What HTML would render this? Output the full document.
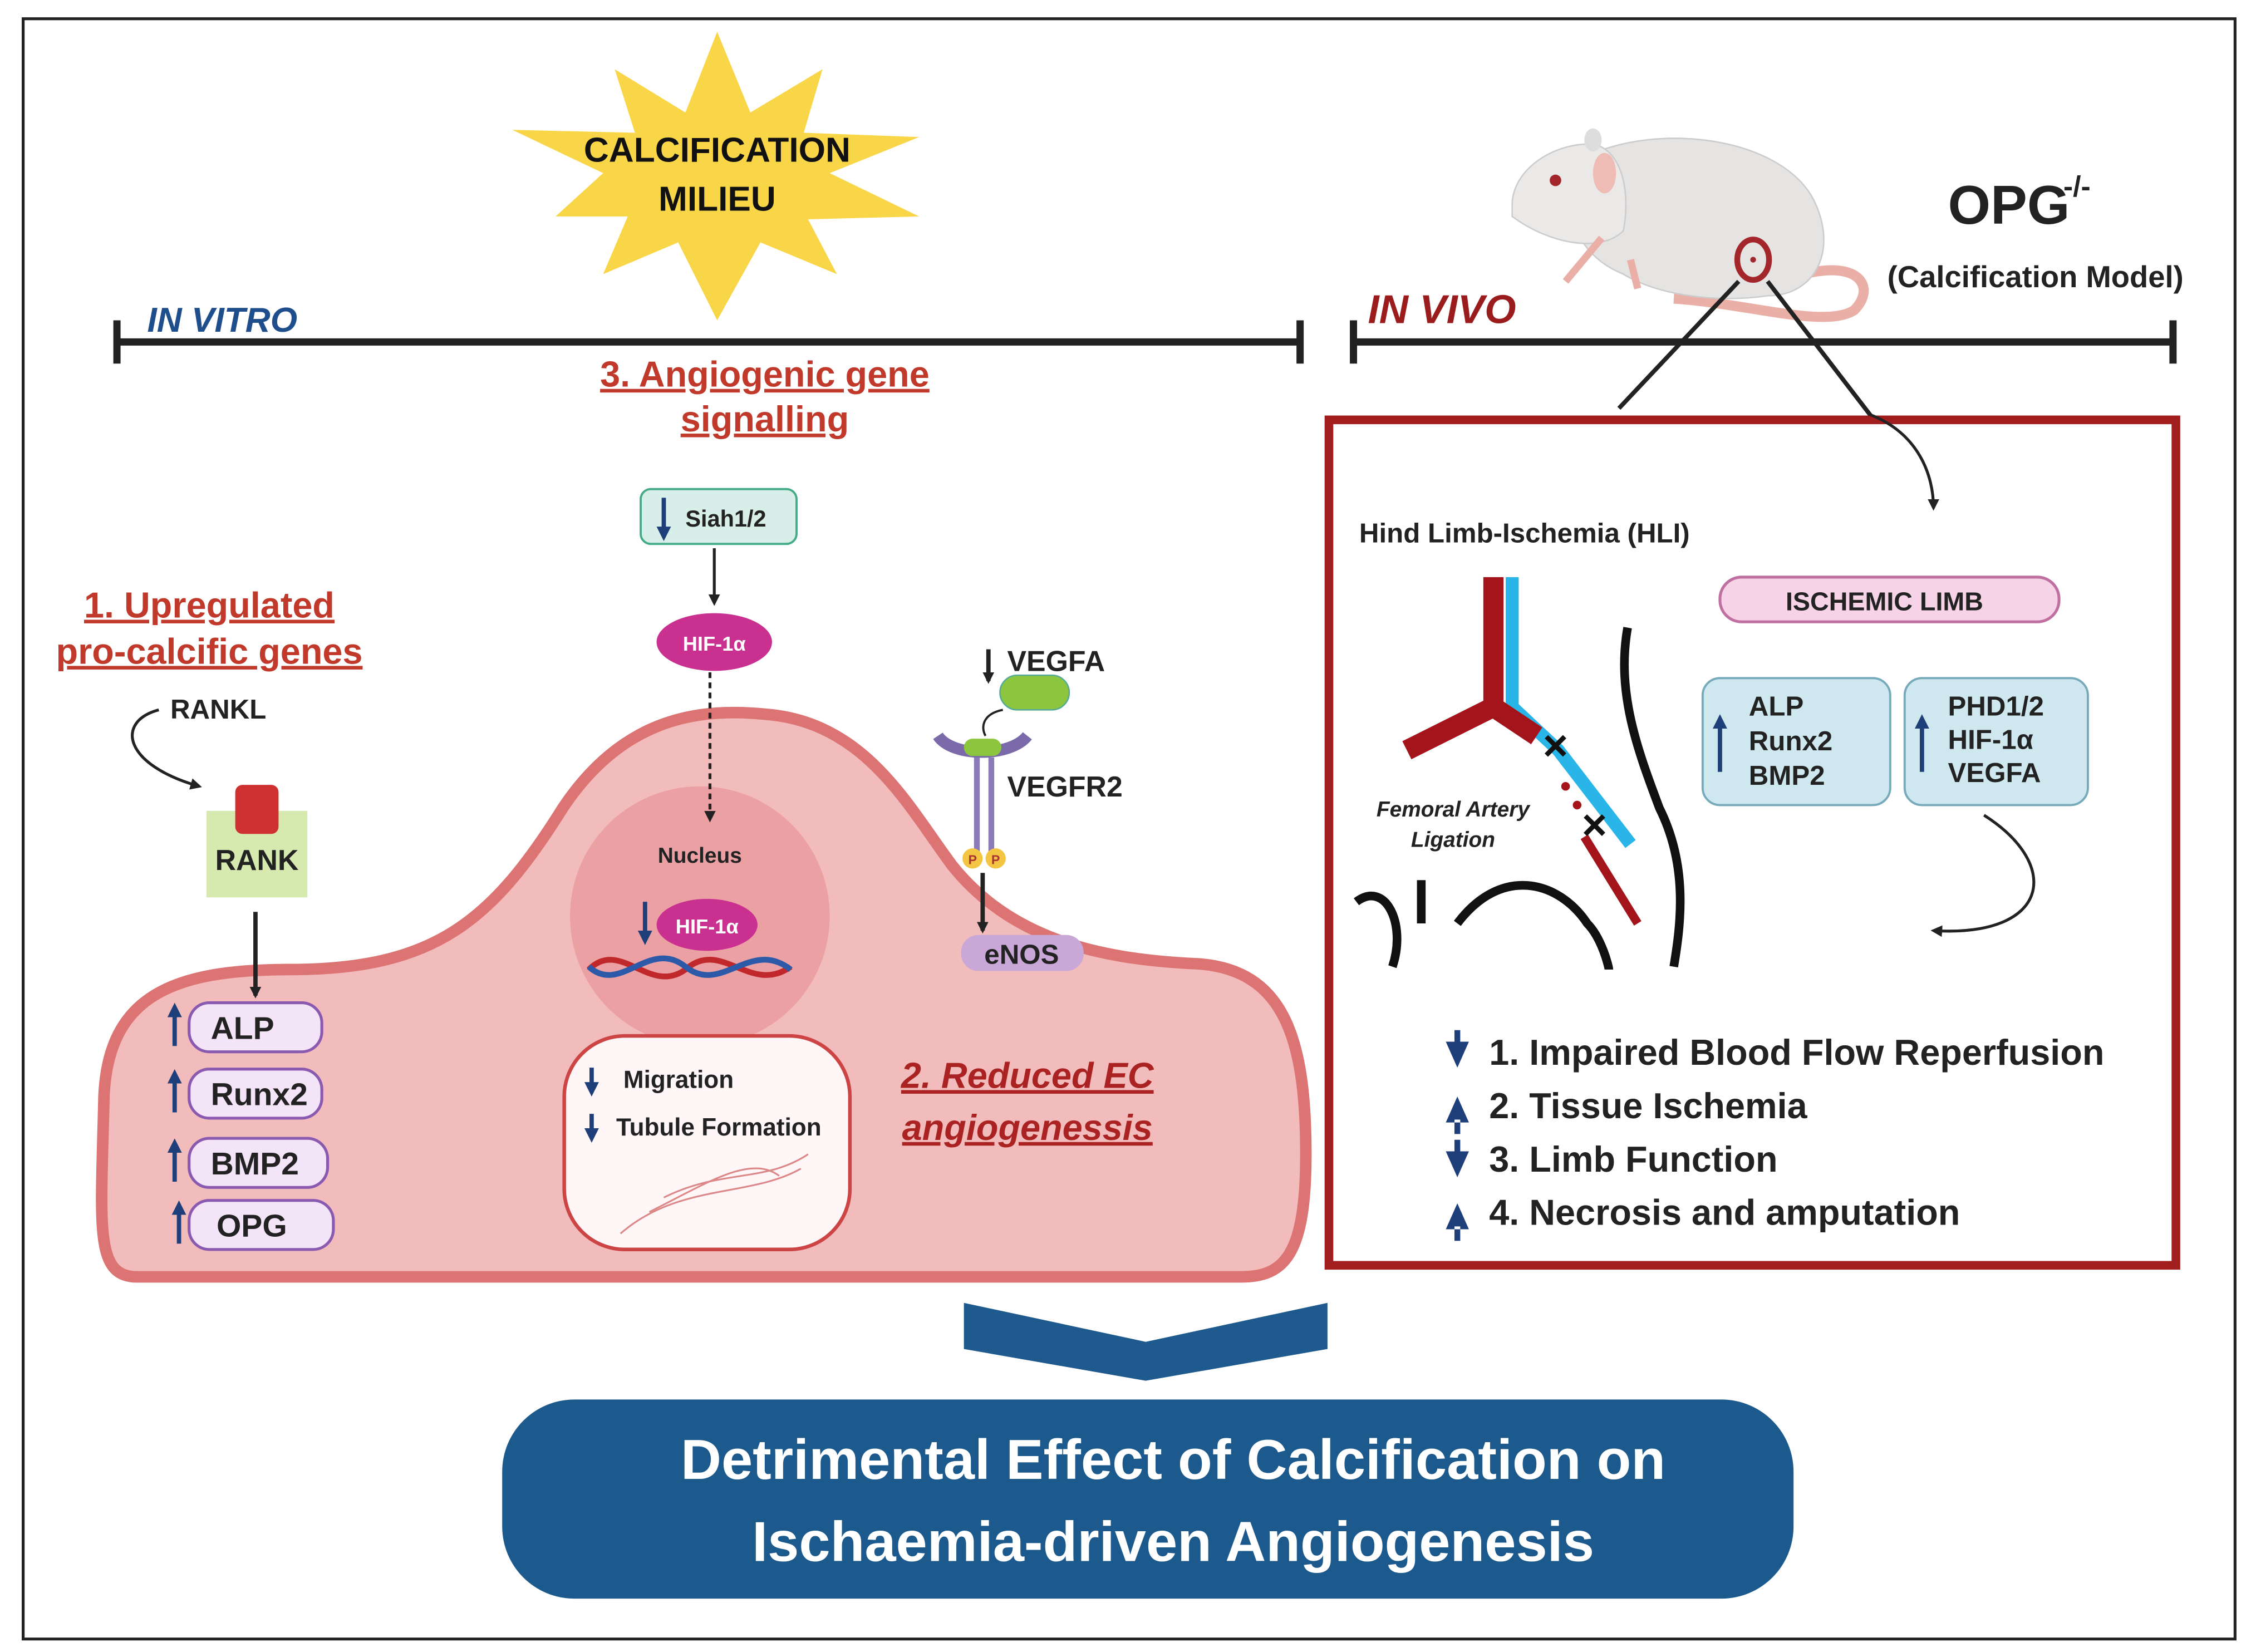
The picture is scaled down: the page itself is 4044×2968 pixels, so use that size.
<!DOCTYPE html>
<html><head><meta charset="utf-8"><style>
html,body{margin:0;padding:0;background:#fff}
svg{display:block}
text{font-family:"Liberation Sans",sans-serif;font-weight:bold}
</style></head><body>
<svg width="4044" height="2968" viewBox="0 0 1560 1145" xmlns="http://www.w3.org/2000/svg">
<defs>
<marker id="ah" markerWidth="8" markerHeight="8" refX="6" refY="4" orient="auto" markerUnits="userSpaceOnUse"><path d="M0,0 L8,4 L0,8 z" fill="#222"/></marker>
<marker id="ab" markerWidth="10" markerHeight="10" refX="5" refY="5" orient="auto" markerUnits="userSpaceOnUse"><path d="M0,0 L10,5 L0,10 z" fill="#1f3f7a"/></marker>
</defs>
<rect x="0" y="0" width="1560" height="1145" fill="#fff"/>
<rect x="16" y="13" width="1533" height="1123" fill="none" stroke="#222" stroke-width="2"/>

<!-- star -->
<polygon fill="#f8d648" points="497,22 520,78 570,48 557,92 637,95 575,120 637,150 560,152 580,190 527,168 497,222 470,168 418,190 435,150 385,150 418,120 355,90 440,92 426,48 475,78"/>
<text x="497" y="112" font-size="24" text-anchor="middle" fill="#111">CALCIFICATION</text>
<text x="497" y="146" font-size="24" text-anchor="middle" fill="#111">MILIEU</text>

<!-- timelines -->
<g stroke="#222" stroke-width="5" fill="none">
<line x1="80" y1="237" x2="902" y2="237"/><line x1="81" y1="222" x2="81" y2="252"/><line x1="901" y1="222" x2="901" y2="252"/>
<line x1="937" y1="237" x2="1507" y2="237"/><line x1="938" y1="222" x2="938" y2="252"/><line x1="1506" y1="222" x2="1506" y2="252"/>
</g>
<text x="102" y="230" font-size="24" font-style="italic" fill="#1f4e8c">IN VITRO</text>
<text x="948" y="224" font-size="28" font-style="italic" fill="#9b1c1c">IN VIVO</text>

<!-- mouse -->
<path d="M1250,190 C1290,180 1300,200 1285,215 C1265,228 1210,210 1160,207" stroke="#eab0a8" stroke-width="7" fill="none"/>
<path d="M1100,108 C1150,85 1230,95 1255,135 C1275,170 1260,205 1225,205 C1190,210 1150,205 1125,190 C1100,180 1090,160 1085,140 Z" fill="#e6e4e3" stroke="#ccc"/>
<path d="M1048,140 C1050,115 1080,98 1105,100 C1125,105 1130,135 1125,160 C1110,175 1075,170 1048,150 Z" fill="#ebe9e8" stroke="#ccc"/>
<ellipse cx="1112" cy="120" rx="8" ry="14" fill="#eebcb4"/>
<circle cx="1078" cy="125" r="4" fill="#a3262a"/>
<ellipse cx="1104" cy="97" rx="6" ry="8" fill="#ddd"/>
<ellipse cx="1215" cy="180" rx="11" ry="14" fill="none" stroke="#a3262a" stroke-width="4"/>
<circle cx="1215" cy="180" r="2" fill="#a3262a"/>
<path d="M1110,165 L1085,195 M1130,180 L1135,200" stroke="#eab0a8" stroke-width="5"/>
<text x="1350" y="155" font-size="38" fill="#222">OPG</text>
<text x="1430" y="136" font-size="20" fill="#222">-/-</text>
<text x="1308" y="199" font-size="21" fill="#222">(Calcification Model)</text>
<line x1="1205" y1="195" x2="1122" y2="283" stroke="#222" stroke-width="3"/>
<line x1="1225" y1="195" x2="1298" y2="290" stroke="#222" stroke-width="3"/>

<!-- red box -->
<rect x="921" y="291" width="587" height="586" fill="none" stroke="#a21d1d" stroke-width="6"/>
<path d="M1295,287 C1330,300 1340,330 1340,352" stroke="#222" stroke-width="2" fill="none" marker-end="url(#ah)"/>
<text x="942" y="376" font-size="19" fill="#222">Hind Limb-Ischemia (HLI)</text>
<rect x="1192" y="400" width="235" height="31" rx="15" fill="#f6d3e6" stroke="#c070a0" stroke-width="2"/>
<text x="1306" y="423" font-size="18" text-anchor="middle" fill="#222">ISCHEMIC LIMB</text>
<rect x="1180" y="470" width="130" height="88" rx="12" fill="#cfe8ef" stroke="#7ab" stroke-width="1.5"/>
<rect x="1320" y="470" width="127" height="88" rx="12" fill="#cfe8ef" stroke="#7ab" stroke-width="1.5"/>
<line x1="1192" y1="535" x2="1192" y2="500" stroke="#1f3f7a" stroke-width="3" marker-end="url(#ab)"/>
<line x1="1332" y1="535" x2="1332" y2="500" stroke="#1f3f7a" stroke-width="3" marker-end="url(#ab)"/>
<text font-size="19" fill="#222"><tspan x="1212" y="496">ALP</tspan><tspan x="1212" y="520">Runx2</tspan><tspan x="1212" y="544">BMP2</tspan></text>
<text font-size="19" fill="#222"><tspan x="1350" y="496">PHD1/2</tspan><tspan x="1350" y="519">HIF-1α</tspan><tspan x="1350" y="542">VEGFA</tspan></text>
<path d="M1375,565 C1430,600 1420,650 1340,645" stroke="#222" stroke-width="2" fill="none" marker-end="url(#ah)"/>

<!-- vessels -->
<path d="M1035,400 L1035,490 L975,520" stroke="#a3151b" stroke-width="14" fill="none"/>
<path d="M1048,400 L1048,490 L1080,520 L1130,585" stroke="#29b5e8" stroke-width="9" fill="none"/>
<path d="M1035,490 L1065,510" stroke="#a3151b" stroke-width="14" fill="none"/>
<path d="M1098,580 L1135,640" stroke="#a3151b" stroke-width="6" fill="none"/>
<circle cx="1085" cy="545" r="3" fill="#a3151b"/><circle cx="1093" cy="558" r="3" fill="#a3151b"/>
<text x="1078" y="527" font-size="30" text-anchor="middle" fill="#111">×</text>
<text x="1105" y="582" font-size="30" text-anchor="middle" fill="#111">×</text>
<text x="1007" y="566" font-size="15" font-style="italic" text-anchor="middle" fill="#222">Femoral Artery</text>
<text x="1007" y="587" font-size="15" font-style="italic" text-anchor="middle" fill="#222">Ligation</text>
<path d="M1128,435 C1120,480 1135,520 1150,560 C1170,600 1165,640 1160,670" stroke="#111" stroke-width="6" fill="none"/>
<path d="M940,625 C960,610 975,640 965,670 M985,610 L985,640 M1010,640 C1040,600 1080,610 1100,640 C1110,650 1115,670 1115,672" stroke="#111" stroke-width="6" fill="none"/>

<!-- outcomes -->
<g fill="#1f3f7a">
<path d="M1002,722 L1018,722 L1010,740 z M1008,714 h4 v10 h-4z"/>
<path d="M1002,778 L1018,778 L1010,760 z M1008,776 h4 v10 h-4z"/>
<path d="M1002,798 L1018,798 L1010,816 z M1008,790 h4 v10 h-4z"/>
<path d="M1002,852 L1018,852 L1010,834 z M1008,850 h4 v10 h-4z"/>
</g>
<text font-size="25" fill="#222"><tspan x="1032" y="738">1. Impaired Blood Flow Reperfusion</tspan><tspan x="1032" y="775">2. Tissue Ischemia</tspan><tspan x="1032" y="812">3. Limb Function</tspan><tspan x="1032" y="849">4. Necrosis and amputation</tspan></text>

<!-- cell -->
<path d="M95,885 C65,885 70,850 72,760 C75,690 120,672 200,672 C300,672 340,640 390,560 C430,500 480,490 530,495 C600,500 630,560 660,600 C700,650 760,665 830,668 C890,672 905,720 905,800 C905,870 890,885 860,885 Z" fill="#f2bcbc" stroke="#dc7474" stroke-width="8"/>
<circle cx="485" cy="635" r="90" fill="#eba1a3"/>
<text x="485" y="598" font-size="15" text-anchor="middle" fill="#222">Nucleus</text>
<path d="M408,672 C430,650 450,690 475,672 C500,650 520,690 548,670" stroke="#c0282c" stroke-width="4" fill="none"/>
<path d="M408,670 C430,690 450,650 475,670 C500,690 520,650 548,672" stroke="#2c5aa8" stroke-width="4" fill="none"/>
<ellipse cx="490" cy="641" rx="35" ry="18" fill="#c9308f"/>
<text x="490" y="647" font-size="14" text-anchor="middle" fill="#fff">HIF-1α</text>
<line x1="447" y1="625" x2="447" y2="650" stroke="#1f3f7a" stroke-width="3" marker-end="url(#ab)"/>

<rect x="391" y="718" width="198" height="148" rx="42" fill="#fff6f7" stroke="#c44" stroke-width="2.5"/>
<text font-size="17" fill="#222"><tspan x="432" y="754">Migration</tspan><tspan x="427" y="787">Tubule Formation</tspan></text>
<line x1="410" y1="740" x2="410" y2="755" stroke="#1f3f7a" stroke-width="3" marker-end="url(#ab)"/>
<line x1="410" y1="772" x2="410" y2="787" stroke="#1f3f7a" stroke-width="3" marker-end="url(#ab)"/>
<path d="M430,855 C470,820 520,830 555,810 M450,840 C490,820 520,800 540,815 M460,830 C500,810 530,820 560,800" stroke="#d88" stroke-width="1.2" fill="none"/>
<text x="712" y="754" font-size="25" font-style="italic" text-anchor="middle" fill="#a22" text-decoration="underline">2. Reduced EC</text>
<text x="712" y="790" font-size="25" font-style="italic" text-anchor="middle" fill="#a22" text-decoration="underline">angiogenessis</text>

<!-- Siah path -->
<text x="530" y="268" font-size="25" text-anchor="middle" fill="#c0392b" text-decoration="underline">3. Angiogenic gene</text>
<text x="530" y="299" font-size="25" text-anchor="middle" fill="#c0392b" text-decoration="underline">signalling</text>
<rect x="444" y="339" width="108" height="38" rx="7" fill="#d8efe9" stroke="#4a8" stroke-width="1.5"/>
<line x1="460" y1="345" x2="460" y2="370" stroke="#1f3f7a" stroke-width="3" marker-end="url(#ab)"/>
<text x="475" y="365" font-size="16" fill="#222">Siah1/2</text>
<line x1="495" y1="380" x2="495" y2="418" stroke="#222" stroke-width="2" marker-end="url(#ah)"/>
<ellipse cx="495" cy="445" rx="40" ry="20" fill="#c9308f"/>
<text x="495" y="451" font-size="14" text-anchor="middle" fill="#fff">HIF-1α</text>
<line x1="492" y1="466" x2="492" y2="568" stroke="#222" stroke-width="2" stroke-dasharray="4,3" marker-end="url(#ah)"/>

<!-- VEGF -->
<line x1="685" y1="450" x2="685" y2="472" stroke="#222" stroke-width="3" marker-end="url(#ah)"/>
<text x="698" y="465" font-size="20" fill="#222">VEGFA</text>
<rect x="693" y="468" width="48" height="24" rx="12" fill="#8cc63f" stroke="#5a9" stroke-width="1"/>
<path d="M695,492 C680,495 680,505 683,510" stroke="#222" stroke-width="1.5" fill="none"/>
<path d="M650,510 C660,525 700,525 712,510" stroke="#7a6aaa" stroke-width="8" fill="none"/>
<rect x="668" y="512" width="26" height="12" rx="6" fill="#8cc63f"/>
<line x1="677" y1="525" x2="677" y2="590" stroke="#8a7ab8" stroke-width="4"/>
<line x1="687" y1="525" x2="687" y2="590" stroke="#8a7ab8" stroke-width="4"/>
<circle cx="674" cy="595" r="7" fill="#f4c542"/><circle cx="690" cy="595" r="7" fill="#f4c542"/>
<text x="674" y="599" font-size="9" text-anchor="middle" fill="#a33">P</text><text x="690" y="599" font-size="9" text-anchor="middle" fill="#a33">P</text>
<text x="698" y="552" font-size="20" fill="#222">VEGFR2</text>
<line x1="681" y1="605" x2="681" y2="645" stroke="#222" stroke-width="3" marker-end="url(#ah)"/>
<rect x="666" y="648" width="85" height="25" rx="12" fill="#c9a8d8"/>
<text x="708" y="668" font-size="19" text-anchor="middle" fill="#222">eNOS</text>

<!-- left pathway -->
<text x="145" y="428" font-size="25" text-anchor="middle" fill="#c0392b" text-decoration="underline">1. Upregulated</text>
<text x="145" y="460" font-size="25" text-anchor="middle" fill="#c0392b" text-decoration="underline">pro-calcific genes</text>
<text x="118" y="498" font-size="19" fill="#222">RANKL</text>
<path d="M110,492 C80,500 85,530 138,545" stroke="#222" stroke-width="2" fill="none" marker-end="url(#ah)"/>
<rect x="143" y="562" width="70" height="60" fill="#d6eab0"/>
<rect x="163" y="544" width="30" height="34" rx="5" fill="#cf3030"/>
<text x="178" y="603" font-size="20" text-anchor="middle" fill="#222">RANK</text>
<line x1="177" y1="632" x2="177" y2="690" stroke="#222" stroke-width="3" marker-end="url(#ah)"/>
<g fill="#f4e4f8" stroke="#8a5ab0" stroke-width="2">
<rect x="131" y="695" width="92" height="34" rx="14"/>
<rect x="131" y="741" width="92" height="34" rx="14"/>
<rect x="131" y="789" width="96" height="34" rx="14"/>
<rect x="131" y="832" width="100" height="34" rx="14"/>
</g>
<g stroke="#1f3f7a" stroke-width="3">
<line x1="121" y1="725" x2="121" y2="700" marker-end="url(#ab)"/>
<line x1="121" y1="771" x2="121" y2="746" marker-end="url(#ab)"/>
<line x1="121" y1="819" x2="121" y2="794" marker-end="url(#ab)"/>
<line x1="124" y1="862" x2="124" y2="837" marker-end="url(#ab)"/>
</g>
<text font-size="22" fill="#222"><tspan x="146" y="720">ALP</tspan><tspan x="146" y="766">Runx2</tspan><tspan x="146" y="814">BMP2</tspan><tspan x="150" y="857">OPG</tspan></text>

<!-- chevron & result -->
<polygon points="668,903 794,930 920,903 920,935 794,957 668,935" fill="#1f5a8f"/>
<rect x="348" y="970" width="895" height="138" rx="50" fill="#1c5a8e"/>
<text x="813" y="1025" font-size="39" text-anchor="middle" fill="#fff">Detrimental Effect of Calcification on</text>
<text x="813" y="1082" font-size="39" text-anchor="middle" fill="#fff">Ischaemia-driven Angiogenesis</text>
</svg>
</body></html>
